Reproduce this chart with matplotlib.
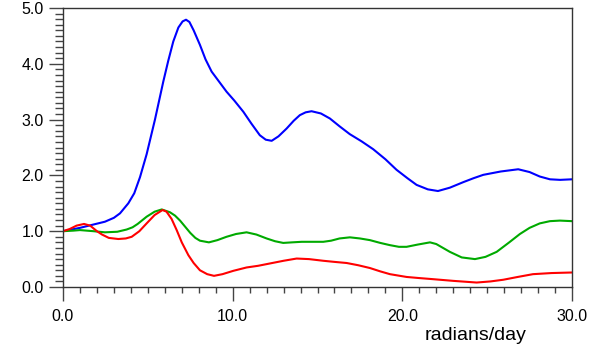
import matplotlib
matplotlib.use("Agg")
import matplotlib.pyplot as plt
from matplotlib.ticker import MultipleLocator, FormatStrFormatter

# spectra read in radians/day
blue_x = [0.0, 0.5, 1.0, 1.8, 2.47, 3.0, 3.36, 3.85, 4.2, 4.54, 4.93, 5.42, 5.91, 6.2, 6.5,
          6.8, 7.05, 7.25, 7.45, 7.7, 8.07, 8.4, 8.76, 9.2, 9.64, 10.1, 10.63, 11.1, 11.6,
          11.95, 12.3, 12.7, 13.18, 13.6, 13.96, 14.3, 14.65, 15.2, 15.73, 16.3, 16.9,
          17.6, 18.28, 19.0, 19.66, 20.3, 20.84, 21.5, 22.1, 22.8, 23.6, 24.2, 24.77,
          25.8, 26.83, 27.5, 28.1, 28.7, 29.3, 30.0]
blue_y = [1.00, 1.03, 1.06, 1.12, 1.17, 1.24, 1.32, 1.50, 1.68, 1.97, 2.38, 3.00, 3.68, 4.05, 4.40,
          4.65, 4.76, 4.79, 4.75, 4.60, 4.34, 4.08, 3.86, 3.68, 3.50, 3.34, 3.14, 2.93, 2.72,
          2.64, 2.62, 2.70, 2.84, 2.98, 3.08, 3.13, 3.15, 3.11, 3.02, 2.88, 2.74,
          2.61, 2.47, 2.29, 2.10, 1.95, 1.83, 1.75, 1.72, 1.78, 1.88, 1.95, 2.01,
          2.07, 2.11, 2.06, 1.98, 1.93, 1.92, 1.93]

green_x = [0.0, 0.6, 1.0, 1.4, 1.8, 2.47, 3.2, 3.75, 4.1, 4.4, 4.93, 5.4, 5.82, 6.3, 6.6,
           6.9, 7.2, 7.5, 7.8, 8.07, 8.6, 9.1, 9.64, 10.2, 10.82, 11.4, 12.0, 12.5, 12.98,
           13.5, 14.07, 15.34, 15.8, 16.3, 16.91, 17.5, 18.09, 18.7, 19.27, 19.8, 20.25,
           20.9, 21.63, 22.0, 22.4, 22.8, 23.5, 24.28, 24.9, 25.56, 26.3, 26.93, 27.5,
           28.1, 28.7, 29.29, 30.0]
green_y = [1.00, 1.01, 1.02, 1.01, 1.00, 0.98, 0.99, 1.03, 1.07, 1.13, 1.26, 1.35, 1.39, 1.34, 1.28,
           1.19, 1.08, 0.97, 0.88, 0.83, 0.80, 0.84, 0.90, 0.95, 0.98, 0.94, 0.87, 0.82, 0.79,
           0.80, 0.81, 0.81, 0.83, 0.87, 0.89, 0.87, 0.84, 0.79, 0.75, 0.72, 0.72,
           0.76, 0.80, 0.77, 0.70, 0.63, 0.53, 0.50, 0.54, 0.63, 0.80, 0.95, 1.06,
           1.14, 1.18, 1.19, 1.18]

red_x = [0.0, 0.4, 0.8, 1.24, 1.6, 2.0, 2.3, 2.7, 3.26, 3.7, 4.05, 4.5, 4.93, 5.4, 5.87,
         6.1, 6.4, 6.7, 7.0, 7.39, 7.7, 8.07, 8.5, 8.9, 9.4, 10.04, 10.82, 11.5, 12.0,
         13.0, 13.77, 14.5, 15.34, 16.0, 16.72, 17.4, 18.09, 18.7, 19.27, 20.25, 21.0,
         21.82, 23.0, 24.38, 25.2, 25.95, 26.8, 27.7, 28.8, 30.0]
red_y = [1.00, 1.04, 1.10, 1.13, 1.10, 1.00, 0.94, 0.88, 0.86, 0.87, 0.90, 1.00, 1.14, 1.29, 1.38,
         1.35, 1.22, 1.02, 0.80, 0.57, 0.43, 0.30, 0.23, 0.20, 0.23, 0.29, 0.35, 0.38, 0.41,
         0.47, 0.51, 0.50, 0.47, 0.45, 0.43, 0.39, 0.34, 0.28, 0.23, 0.18, 0.16,
         0.14, 0.11, 0.08, 0.10, 0.13, 0.18, 0.23, 0.25, 0.26]

plt.rcParams["font.family"] = ["Liberation Sans", "DejaVu Sans"]

fig = plt.figure(figsize=(6.04, 3.51), dpi=100)
ax = fig.add_axes([63 / 604, 64 / 351, 509 / 604, 279 / 351])

lw = 1.5
ax.plot(blue_x, blue_y, color="#0000ff", lw=lw, solid_joinstyle="round")
ax.plot(green_x, green_y, color="#00aa00", lw=lw, solid_joinstyle="round")
ax.plot(red_x, red_y, color="#ff0000", lw=lw, solid_joinstyle="round")

ax.set_xlim(0, 30)
ax.set_ylim(0, 5)
ax.xaxis.set_major_locator(MultipleLocator(10))
ax.xaxis.set_minor_locator(MultipleLocator(1))
ax.yaxis.set_major_locator(MultipleLocator(1))
ax.yaxis.set_minor_locator(MultipleLocator(0.1))
ax.xaxis.set_major_formatter(FormatStrFormatter("%.1f"))
ax.yaxis.set_major_formatter(FormatStrFormatter("%.1f"))

for s in ax.spines.values():
    s.set_linewidth(1.0)
    s.set_color("#333333")

ax.tick_params(which="both", direction="out", color="#444444", width=1.0,
               top=False, right=False, labelsize=11.5)
ax.tick_params(which="major", length=10, pad=4)
ax.tick_params(axis="y", which="minor", length=6)
ax.tick_params(axis="x", which="minor", length=4.5)
ax.tick_params(axis="x", which="major", pad=6)

fig.text(476 / 604, 1 - 336 / 351, "radians/day", ha="center", va="center", fontsize=14)

fig.savefig("out.png", dpi=100)
